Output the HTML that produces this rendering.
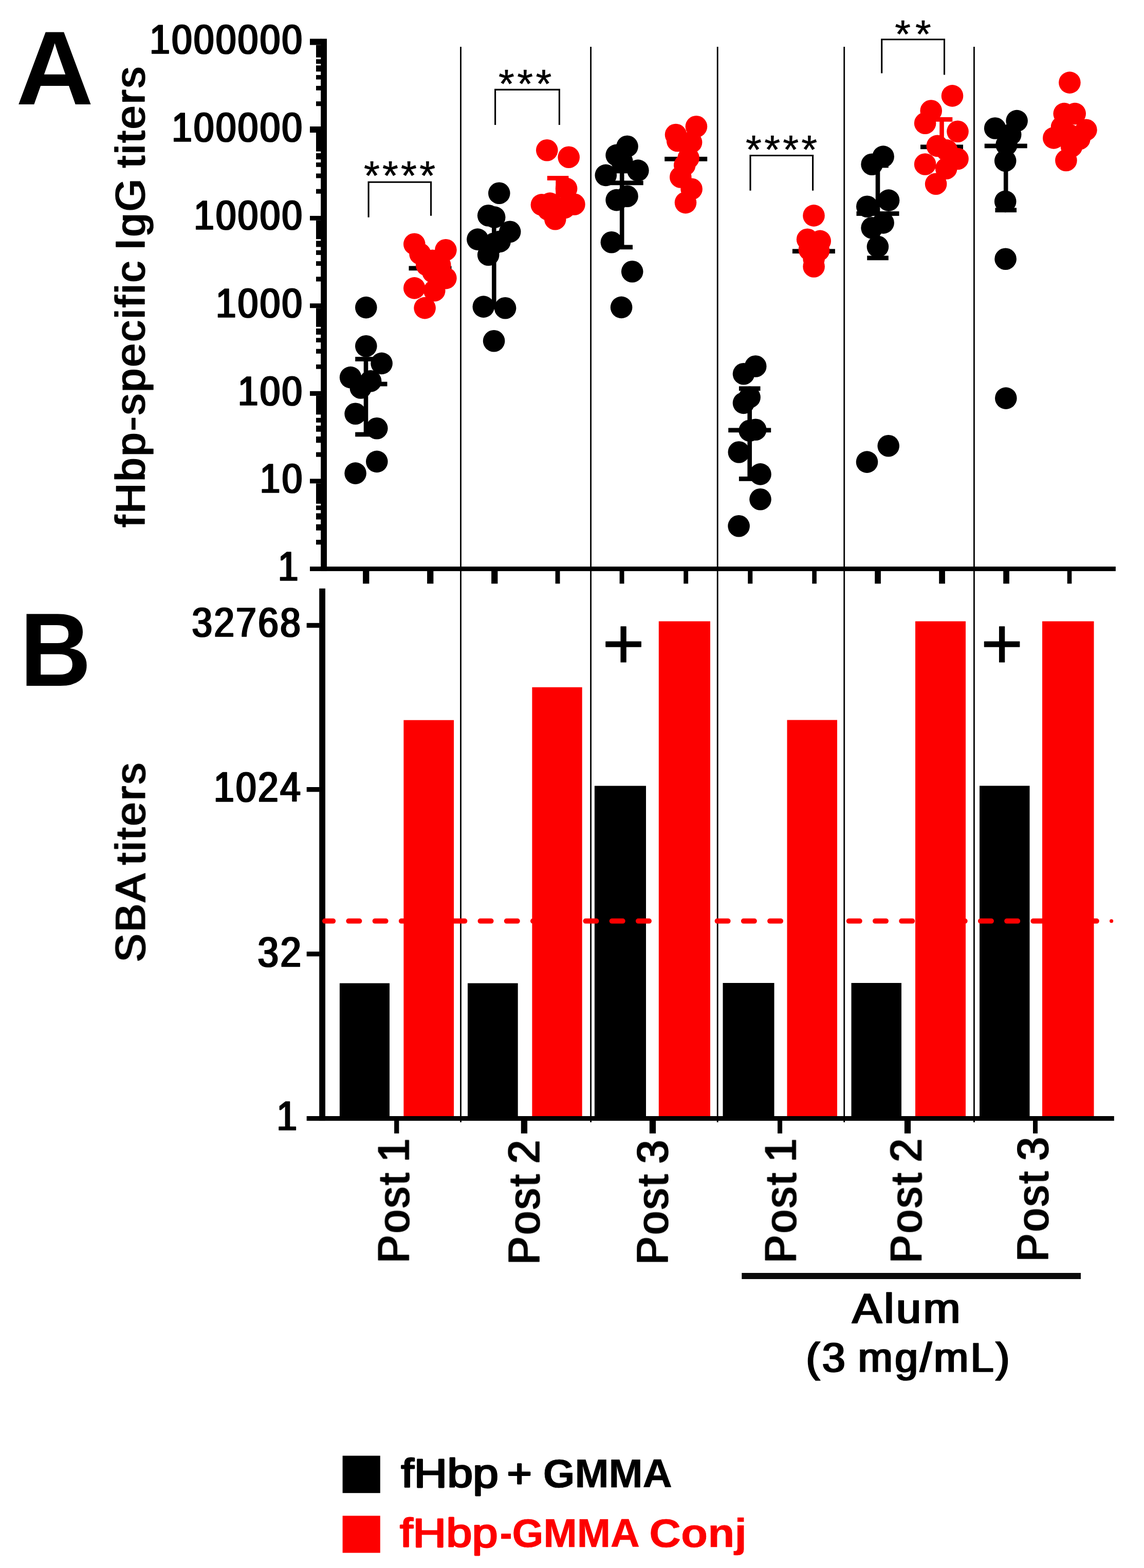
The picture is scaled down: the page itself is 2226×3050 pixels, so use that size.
<!DOCTYPE html>
<html lang="en"><head><meta charset="utf-8"><title>fHbp-specific IgG titers and SBA titers</title>
<style>html,body{margin:0;padding:0;background:#fff}svg{display:block}text{font-family:"Liberation Sans",sans-serif}</style>
</head><body>
<svg xmlns="http://www.w3.org/2000/svg" width="2226" height="3050" viewBox="0 0 2226 3050">
<defs><filter id="hb" x="-5%" y="-5%" width="110%" height="110%" color-interpolation-filters="sRGB"><feMorphology operator="dilate" radius="1.2 0"/></filter></defs>
<rect width="2226" height="3050" fill="#fff"/>
<g fill="#000">
<rect x="895.1" y="91" width="2.8" height="2092"/>
<rect x="1148.2" y="91" width="2.8" height="2092"/>
<rect x="1394.8" y="91" width="2.8" height="2092"/>
<rect x="1641.3" y="91" width="2.8" height="2092"/>
<rect x="1894.0" y="91" width="2.8" height="2092"/>
</g>
<g fill="#000">
<rect x="624.2" y="75.4" width="11.8" height="1035.5"/>
<rect x="603" y="1102.1" width="1567.9" height="8.8"/>
<rect x="603" y="75.4" width="22" height="12.1"/>
<rect x="603" y="246" width="22" height="12.0"/>
<rect x="603" y="419.9" width="22" height="8.9"/>
<rect x="603" y="590.2" width="22" height="9.0"/>
<rect x="603" y="760.8" width="22" height="9.1"/>
<rect x="603" y="931.3" width="22" height="9.0"/>
<rect x="615" y="87.5" width="10" height="24.2"/>
<rect x="615" y="115.2" width="10" height="8.9"/>
<rect x="615" y="127.3" width="10" height="11.9"/>
<rect x="615" y="145.9" width="10" height="8.7"/>
<rect x="615" y="167" width="10" height="8.8"/>
<rect x="615" y="197.2" width="10" height="9.1"/>
<rect x="615" y="258" width="10" height="36.5"/>
<rect x="615" y="298" width="10" height="12.0"/>
<rect x="615" y="316" width="10" height="8.8"/>
<rect x="615" y="337.5" width="10" height="9.0"/>
<rect x="615" y="367.7" width="10" height="9.0"/>
<rect x="615" y="428.8" width="10" height="36.4"/>
<rect x="615" y="468.4" width="10" height="12.0"/>
<rect x="615" y="486.8" width="10" height="9.1"/>
<rect x="615" y="508.1" width="10" height="8.9"/>
<rect x="615" y="538.3" width="10" height="9.2"/>
<rect x="615" y="599.2" width="10" height="36.6"/>
<rect x="615" y="639" width="10" height="11.9"/>
<rect x="615" y="657.3" width="10" height="8.7"/>
<rect x="615" y="678.7" width="10" height="9.1"/>
<rect x="615" y="708.9" width="10" height="8.8"/>
<rect x="615" y="769.9" width="10" height="36.5"/>
<rect x="615" y="812.8" width="10" height="9.1"/>
<rect x="615" y="827.9" width="10" height="11.9"/>
<rect x="615" y="849.1" width="10" height="12.2"/>
<rect x="615" y="879.6" width="10" height="9.1"/>
<rect x="615" y="940.3" width="10" height="39.5"/>
<rect x="615" y="983.3" width="10" height="8.9"/>
<rect x="615" y="998.4" width="10" height="12.1"/>
<rect x="615" y="1019.8" width="10" height="12.0"/>
<rect x="615" y="1050" width="10" height="9.3"/>
<rect x="706.1" y="1110" width="12.3" height="25.3"/>
<rect x="831.1" y="1110" width="12.3" height="25.3"/>
<rect x="956.1" y="1110" width="12.3" height="25.3"/>
<rect x="1080.6" y="1110" width="8.9" height="25.3"/>
<rect x="1205.6" y="1110" width="8.9" height="25.3"/>
<rect x="1330.2" y="1110" width="8.9" height="25.3"/>
<rect x="1455.2" y="1110" width="9.1" height="25.3"/>
<rect x="1580.3" y="1110" width="8.6" height="25.3"/>
<rect x="1702.2" y="1110" width="11.7" height="25.3"/>
<rect x="1827.2" y="1110" width="11.7" height="25.3"/>
<rect x="1952.2" y="1110" width="11.7" height="25.3"/>
<rect x="2076.7" y="1110" width="8.6" height="25.3"/>
</g>
<text transform="translate(291.37 104.47) scale(0.9075 1.0220)" font-size="78" font-weight="normal" fill="#000" stroke="#000" stroke-width="1.5" stroke-linejoin="round" letter-spacing="3.85" filter="url(#hb)">1000000</text>
<text transform="translate(334.25 275.27) scale(0.9075 1.0220)" font-size="78" font-weight="normal" fill="#000" stroke="#000" stroke-width="1.5" stroke-linejoin="round" letter-spacing="3.85" filter="url(#hb)">100000</text>
<text transform="translate(377.13 446.07) scale(0.9075 1.0220)" font-size="78" font-weight="normal" fill="#000" stroke="#000" stroke-width="1.5" stroke-linejoin="round" letter-spacing="3.85" filter="url(#hb)">10000</text>
<text transform="translate(420.01 616.87) scale(0.9075 1.0220)" font-size="78" font-weight="normal" fill="#000" stroke="#000" stroke-width="1.5" stroke-linejoin="round" letter-spacing="3.85" filter="url(#hb)">1000</text>
<text transform="translate(462.89 787.67) scale(0.9075 1.0220)" font-size="78" font-weight="normal" fill="#000" stroke="#000" stroke-width="1.5" stroke-linejoin="round" letter-spacing="3.85" filter="url(#hb)">100</text>
<text transform="translate(505.78 958.47) scale(0.9075 1.0220)" font-size="78" font-weight="normal" fill="#000" stroke="#000" stroke-width="1.5" stroke-linejoin="round" letter-spacing="3.85" filter="url(#hb)">10</text>
<g fill="#000"><rect x="707.7" y="698.5" width="8.6" height="146.5"/><rect x="691.2" y="694.1" width="41.6" height="8.8"/><rect x="691.2" y="840.6" width="41.6" height="8.8"/></g>
<rect x="670.5" y="742.6" width="83" height="8.8" fill="#000"/>
<g fill="#000"><circle cx="712.3" cy="598.1" r="21.3"/><circle cx="712.3" cy="673.2" r="21.3"/><circle cx="742.6" cy="706.9" r="21.3"/><circle cx="682.1" cy="734.1" r="21.3"/><circle cx="721.1" cy="741.3" r="21.3"/><circle cx="701.8" cy="754.5" r="21.3"/><circle cx="691.6" cy="804.8" r="21.3"/><circle cx="733.3" cy="833.2" r="21.3"/><circle cx="733.3" cy="897.9" r="21.3"/><circle cx="691.6" cy="920.6" r="21.3"/></g>
<rect x="795.5" y="517.4" width="83" height="8.8" fill="#000"/>
<g fill="#fd0000"><circle cx="806.3" cy="474.8" r="21.3"/><circle cx="867.4" cy="486.3" r="21.3"/><circle cx="817.5" cy="493.8" r="21.3"/><circle cx="841.7" cy="506.7" r="21.3"/><circle cx="830.3" cy="515.6" r="21.3"/><circle cx="856.2" cy="515.6" r="21.3"/><circle cx="842.4" cy="529.1" r="21.3"/><circle cx="867.4" cy="541.1" r="21.3"/><circle cx="806.3" cy="560.4" r="21.3"/><circle cx="845.3" cy="565.3" r="21.3"/><circle cx="826.6" cy="599.1" r="21.3"/></g>
<g fill="#000"><rect x="957.0" y="425.0" width="8.6" height="172.0"/><rect x="940.5" y="420.6" width="41.6" height="8.8"/><rect x="940.5" y="592.6" width="41.6" height="8.8"/></g>
<rect x="919.8" y="458.6" width="83" height="8.8" fill="#000"/>
<g fill="#000"><circle cx="971.3" cy="375.8" r="21.3"/><circle cx="950.2" cy="419.3" r="21.3"/><circle cx="962.2" cy="422.6" r="21.3"/><circle cx="992.2" cy="450.8" r="21.3"/><circle cx="929.4" cy="465.6" r="21.3"/><circle cx="972.6" cy="469.8" r="21.3"/><circle cx="961.7" cy="473.5" r="21.3"/><circle cx="950.2" cy="495.8" r="21.3"/><circle cx="940.8" cy="596.6" r="21.3"/><circle cx="983.1" cy="599.3" r="21.3"/><circle cx="961.1" cy="663.2" r="21.3"/></g>
<g fill="#fd0000"><rect x="1081.3" y="346.5" width="8.6" height="53.5"/><rect x="1064.8" y="342.1" width="41.6" height="8.8"/><rect x="1064.8" y="395.6" width="41.6" height="8.8"/></g>
<g fill="#fd0000"><circle cx="1064.3" cy="292.2" r="21.3"/><circle cx="1106.7" cy="305.8" r="21.3"/><circle cx="1102.1" cy="366.9" r="21.3"/><circle cx="1053.9" cy="398.4" r="21.3"/><circle cx="1117.4" cy="397.5" r="21.3"/><circle cx="1070.1" cy="395.6" r="21.3"/><circle cx="1098.8" cy="404.0" r="21.3"/><circle cx="1066.4" cy="407.7" r="21.3"/><circle cx="1080.3" cy="426.3" r="21.3"/></g>
<g fill="#000"><rect x="1205.9" y="332.8" width="8.6" height="148.0"/><rect x="1189.4" y="328.4" width="41.6" height="8.8"/><rect x="1189.4" y="476.4" width="41.6" height="8.8"/></g>
<rect x="1168.7" y="351.4" width="83" height="8.8" fill="#000"/>
<g fill="#000"><circle cx="1220.5" cy="284.8" r="21.3"/><circle cx="1199.6" cy="301.9" r="21.3"/><circle cx="1210.3" cy="314.0" r="21.3"/><circle cx="1178.8" cy="340.9" r="21.3"/><circle cx="1241.4" cy="331.6" r="21.3"/><circle cx="1199.6" cy="389.1" r="21.3"/><circle cx="1220.5" cy="381.7" r="21.3"/><circle cx="1189.9" cy="471.3" r="21.3"/><circle cx="1230.2" cy="528.3" r="21.3"/><circle cx="1209.1" cy="597.9" r="21.3"/></g>
<rect x="1293.2" y="304.9" width="83" height="8.8" fill="#000"/>
<g fill="#fd0000"><circle cx="1354.9" cy="246.2" r="21.3"/><circle cx="1315.0" cy="262.0" r="21.3"/><circle cx="1318.2" cy="274.0" r="21.3"/><circle cx="1345.1" cy="276.8" r="21.3"/><circle cx="1339.6" cy="307.4" r="21.3"/><circle cx="1332.2" cy="321.3" r="21.3"/><circle cx="1324.3" cy="344.5" r="21.3"/><circle cx="1345.6" cy="367.7" r="21.3"/><circle cx="1334.0" cy="394.1" r="21.3"/></g>
<g fill="#000"><rect x="1454.4" y="755.8" width="8.6" height="175.6"/><rect x="1437.9" y="751.4" width="41.6" height="8.8"/><rect x="1437.9" y="927.0" width="41.6" height="8.8"/></g>
<rect x="1417.2" y="832.4" width="83" height="8.8" fill="#000"/>
<g fill="#000"><circle cx="1470.2" cy="712.5" r="21.3"/><circle cx="1447.0" cy="727.3" r="21.3"/><circle cx="1458.6" cy="772.8" r="21.3"/><circle cx="1447.0" cy="783.9" r="21.3"/><circle cx="1470.2" cy="835.8" r="21.3"/><circle cx="1458.6" cy="837.7" r="21.3"/><circle cx="1437.8" cy="879.5" r="21.3"/><circle cx="1479.5" cy="922.4" r="21.3"/><circle cx="1479.5" cy="971.3" r="21.3"/><circle cx="1437.6" cy="1023.3" r="21.3"/></g>
<rect x="1541.9" y="484.3" width="83" height="8.8" fill="#000"/>
<g fill="#fd0000"><circle cx="1583.5" cy="419.4" r="21.3"/><circle cx="1571.1" cy="465.7" r="21.3"/><circle cx="1595.7" cy="468.9" r="21.3"/><circle cx="1574.9" cy="485.7" r="21.3"/><circle cx="1593.1" cy="487.3" r="21.3"/><circle cx="1583.6" cy="503.2" r="21.3"/><circle cx="1583.6" cy="518.5" r="21.3"/></g>
<g fill="#000"><rect x="1703.7" y="322.0" width="8.6" height="179.8"/><rect x="1687.2" y="317.6" width="41.6" height="8.8"/><rect x="1687.2" y="497.4" width="41.6" height="8.8"/></g>
<rect x="1666.5" y="411.1" width="83" height="8.8" fill="#000"/>
<g fill="#000"><circle cx="1718.6" cy="304.6" r="21.3"/><circle cx="1696.6" cy="319.7" r="21.3"/><circle cx="1729.1" cy="389.6" r="21.3"/><circle cx="1687.3" cy="401.7" r="21.3"/><circle cx="1696.6" cy="443.3" r="21.3"/><circle cx="1718.6" cy="433.4" r="21.3"/><circle cx="1707.9" cy="479.8" r="21.3"/><circle cx="1728.7" cy="867.3" r="21.3"/><circle cx="1687.0" cy="898.6" r="21.3"/></g>
<g fill="#fd0000"><rect x="1828.2" y="232.3" width="8.6" height="57.7"/><rect x="1811.7" y="227.9" width="41.6" height="8.8"/><rect x="1811.7" y="285.6" width="41.6" height="8.8"/></g>
<rect x="1791.0" y="281.4" width="83" height="8.8" fill="#000"/>
<g fill="#fd0000"><circle cx="1853.0" cy="186.4" r="21.3"/><circle cx="1811.7" cy="215.5" r="21.3"/><circle cx="1800.1" cy="239.7" r="21.3"/><circle cx="1863.5" cy="255.8" r="21.3"/><circle cx="1823.8" cy="283.9" r="21.3"/><circle cx="1842.3" cy="292.4" r="21.3"/><circle cx="1863.5" cy="309.0" r="21.3"/><circle cx="1800.1" cy="319.5" r="21.3"/><circle cx="1841.2" cy="327.8" r="21.3"/><circle cx="1821.1" cy="357.8" r="21.3"/></g>
<g fill="#000"><rect x="1952.9" y="262.0" width="8.6" height="146.7"/><rect x="1936.4" y="257.6" width="41.6" height="8.8"/><rect x="1936.4" y="404.3" width="41.6" height="8.8"/></g>
<rect x="1915.7" y="279.5" width="83" height="8.8" fill="#000"/>
<g fill="#000"><circle cx="1978.6" cy="235.1" r="21.3"/><circle cx="1936.2" cy="249.5" r="21.3"/><circle cx="1966.2" cy="261.8" r="21.3"/><circle cx="1958.5" cy="281.7" r="21.3"/><circle cx="1956.2" cy="312.8" r="21.3"/><circle cx="1956.2" cy="391.9" r="21.3"/><circle cx="1956.6" cy="503.7" r="21.3"/><circle cx="1957.3" cy="774.6" r="21.3"/></g>
<g fill="#fd0000"><circle cx="2081.4" cy="160.6" r="21.3"/><circle cx="2070.7" cy="221.1" r="21.3"/><circle cx="2091.7" cy="221.1" r="21.3"/><circle cx="2113.4" cy="252.7" r="21.3"/><circle cx="2050.3" cy="268.4" r="21.3"/><circle cx="2066.0" cy="247.0" r="21.3"/><circle cx="2080.0" cy="262.0" r="21.3"/><circle cx="2100.4" cy="270.3" r="21.3"/><circle cx="2085.0" cy="285.0" r="21.3"/><circle cx="2074.4" cy="312.0" r="21.3"/></g>
<path d="M717.1 422.7V354.3H838.6V419.7" fill="none" stroke="#000" stroke-width="3.1"/>
<text transform="translate(708.11 369.25) scale(0.9938 1.0000)" font-size="80" font-weight="normal" fill="#000" stroke="#000" stroke-width="0.6" stroke-linejoin="round" letter-spacing="5.1">****</text>
<path d="M963.6 242.9V174.4H1088.4V242.9" fill="none" stroke="#000" stroke-width="3.1"/>
<text transform="translate(970.11 190.31) scale(0.9907 0.9649)" font-size="80" font-weight="normal" fill="#000" stroke="#000" stroke-width="0.6" stroke-linejoin="round" letter-spacing="5.4">***</text>
<path d="M1460 370.7V302.5H1581.6V370.7" fill="none" stroke="#000" stroke-width="3.1"/>
<text transform="translate(1451.11 318.31) scale(0.9924 0.9649)" font-size="80" font-weight="normal" fill="#000" stroke="#000" stroke-width="0.6" stroke-linejoin="round" letter-spacing="5.2">****</text>
<path d="M1715.7 142.4V76.8H1837.5V145.6" fill="none" stroke="#000" stroke-width="3.1"/>
<text transform="translate(1741.31 91.84) scale(0.9871 0.9474)" font-size="80" font-weight="normal" fill="#000" stroke="#000" stroke-width="0.6" stroke-linejoin="round" letter-spacing="9.2">**</text>
<g>
<rect x="660.9" y="1912.5" width="97.1" height="263.5" fill="#000"/>
<rect x="785.4" y="1400.7" width="97.7" height="775.3" fill="#fd0000"/>
<rect x="910.0" y="1912.5" width="97.7" height="263.5" fill="#000"/>
<rect x="1035.4" y="1336.8" width="97.3" height="839.2" fill="#fd0000"/>
<rect x="1156.9" y="1528.6" width="100.1" height="647.4" fill="#000"/>
<rect x="1281.8" y="1208.5" width="100.2" height="967.5" fill="#fd0000"/>
<rect x="1406.5" y="1912.0" width="100.0" height="264.0" fill="#000"/>
<rect x="1531.5" y="1400.5" width="97.5" height="775.5" fill="#fd0000"/>
<rect x="1656.5" y="1912.0" width="97.5" height="264.0" fill="#000"/>
<rect x="1781.0" y="1208.5" width="98.0" height="967.5" fill="#fd0000"/>
<rect x="1906.0" y="1528.5" width="97.5" height="647.5" fill="#000"/>
<rect x="2028.0" y="1208.5" width="100.5" height="967.5" fill="#fd0000"/>
</g>
<g fill="#000">
<rect x="621.2" y="1144.7" width="11.8" height="1035.4"/>
<rect x="596.7" y="2171" width="1571.1" height="9.1"/>
<rect x="596.7" y="1211.8" width="25" height="9.3"/>
<rect x="596.7" y="1531.0" width="25" height="9.3"/>
<rect x="596.7" y="1851.0" width="25" height="9.3"/>
<rect x="767.1" y="2179" width="9.3" height="25.7"/>
<rect x="1013.8" y="2179" width="12.3" height="25.7"/>
<rect x="1263.8" y="2179" width="12.3" height="25.7"/>
<rect x="1513.0" y="2179" width="9.1" height="25.7"/>
<rect x="1759.9" y="2179" width="12.2" height="25.7"/>
<rect x="2010.0" y="2179" width="9" height="25.7"/>
</g>
<line x1="632" y1="1791.6" x2="2157" y2="1791.6" stroke="#fd0000" stroke-width="10" stroke-dasharray="21 30.23" stroke-dashoffset="4.83" stroke-linecap="round"/>
<circle cx="2162.6" cy="1791.6" r="3.6" fill="#fd0000"/>
<text transform="translate(373.49 1238.15) scale(0.9087 1.0308)" font-size="78" font-weight="normal" fill="#000" stroke="#000" stroke-width="1.5" stroke-linejoin="round" letter-spacing="3.85" filter="url(#hb)">32768</text>
<text transform="translate(415.95 1559.33) scale(0.9123 1.0467)" font-size="78" font-weight="normal" fill="#000" stroke="#000" stroke-width="1.5" stroke-linejoin="round" letter-spacing="3.85" filter="url(#hb)">1024</text>
<text transform="translate(501.47 1879.53) scale(0.9322 1.0449)" font-size="78" font-weight="normal" fill="#000" stroke="#000" stroke-width="1.5" stroke-linejoin="round" letter-spacing="3.85" filter="url(#hb)">32</text>
<text transform="translate(541.04 1129.47) scale(0.9075 1.0220)" font-size="78" font-weight="normal" fill="#000" stroke="#000" stroke-width="1.5" stroke-linejoin="round" letter-spacing="3.85" filter="url(#hb)">1</text>
<text transform="translate(538.59 2198.45) scale(0.9087 1.0308)" font-size="78" font-weight="normal" fill="#000" stroke="#000" stroke-width="1.5" stroke-linejoin="round" letter-spacing="3.85" filter="url(#hb)">1</text>
<text transform="translate(1172.11 1299.68) scale(1.0065 1.0022)" font-size="140" font-weight="normal" fill="#000" stroke="#000" stroke-width="1.2" stroke-linejoin="round">+</text>
<text transform="translate(1908.41 1299.68) scale(1.0065 1.0022)" font-size="140" font-weight="normal" fill="#000" stroke="#000" stroke-width="1.2" stroke-linejoin="round">+</text>
<text transform="translate(795.33 2456.62) rotate(-90) scale(0.9643 1.0091)" font-size="84" font-weight="normal" fill="#000" stroke="#000" stroke-width="1.5" stroke-linejoin="round" letter-spacing="4.3" word-spacing="-9" filter="url(#hb)">Post 1</text>
<text transform="translate(1049.09 2459.52) rotate(-90) scale(0.9643 1.0091)" font-size="84" font-weight="normal" fill="#000" stroke="#000" stroke-width="1.5" stroke-linejoin="round" letter-spacing="4.3" word-spacing="-9" filter="url(#hb)">Post 2</text>
<text transform="translate(1298.99 2459.52) rotate(-90) scale(0.9643 1.0091)" font-size="84" font-weight="normal" fill="#000" stroke="#000" stroke-width="1.5" stroke-linejoin="round" letter-spacing="4.3" word-spacing="-9" filter="url(#hb)">Post 3</text>
<text transform="translate(1548.33 2456.62) rotate(-90) scale(0.9643 1.0091)" font-size="84" font-weight="normal" fill="#000" stroke="#000" stroke-width="1.5" stroke-linejoin="round" letter-spacing="4.3" word-spacing="-9" filter="url(#hb)">Post 1</text>
<text transform="translate(1792.49 2456.62) rotate(-90) scale(0.9643 1.0091)" font-size="84" font-weight="normal" fill="#000" stroke="#000" stroke-width="1.5" stroke-linejoin="round" letter-spacing="4.3" word-spacing="-9" filter="url(#hb)">Post 2</text>
<text transform="translate(2038.99 2453.72) rotate(-90) scale(0.9643 1.0091)" font-size="84" font-weight="normal" fill="#000" stroke="#000" stroke-width="1.5" stroke-linejoin="round" letter-spacing="4.3" word-spacing="-9" filter="url(#hb)">Post 3</text>
<rect x="1443.3" y="2476" width="659.7" height="12" fill="#0a0a0a"/>
<text transform="translate(1658.20 2572.94) scale(1.0296 0.9708)" font-size="84" font-weight="normal" fill="#000" stroke="#000" stroke-width="1.5" stroke-linejoin="round" letter-spacing="4.3" word-spacing="-6" filter="url(#hb)">Alum</text>
<text transform="translate(1568.57 2668.33) scale(0.9631 0.9575)" font-size="84" font-weight="normal" fill="#000" stroke="#000" stroke-width="1.5" stroke-linejoin="round" letter-spacing="4.3" word-spacing="-6" filter="url(#hb)">(3 mg/mL)</text>
<text transform="translate(280.94 1024.98) rotate(-90) scale(0.9617 0.9513)" font-size="84" font-weight="normal" fill="#000" stroke="#000" stroke-width="1.5" stroke-linejoin="round" letter-spacing="4.3" word-spacing="-9" filter="url(#hb)">fHbp-specific IgG titers</text>
<text transform="translate(281.74 1871.10) rotate(-90) scale(0.9706 0.9708)" font-size="84" font-weight="normal" fill="#000" stroke="#000" stroke-width="1.5" stroke-linejoin="round" letter-spacing="4.3" word-spacing="-9" filter="url(#hb)">SBA titers</text>
<text transform="translate(31.07 203.20) scale(1.0463 1.0178)" font-size="200" font-weight="bold" fill="#000">A</text>
<text transform="translate(38.64 1333.60) scale(0.9602 1.0127)" font-size="200" font-weight="bold" fill="#000">B</text>
<rect x="666.6" y="2831.6" width="73.2" height="72.6" fill="#000"/>
<rect x="666.6" y="2948.4" width="73.2" height="72.1" fill="#fd0000"/>
<text transform="translate(0 2893.22) scale(1 0.9252)" font-size="84" fill="#000" xml:space="preserve"><tspan x="780.47" font-weight="normal" textLength="189.57" lengthAdjust="spacingAndGlyphs" stroke="#000" stroke-width="3.2" stroke-linejoin="round">fHbp</tspan> <tspan x="986.53" font-weight="normal" textLength="48.39" lengthAdjust="spacingAndGlyphs" stroke="#000" stroke-width="3.2" stroke-linejoin="round">+</tspan> <tspan x="1056.71" font-weight="bold" textLength="251.04" lengthAdjust="spacingAndGlyphs" stroke="#000" stroke-width="0.8" stroke-linejoin="round">GMMA</tspan></text>
<text transform="translate(0 3008.81) scale(1 0.9362)" font-size="84" fill="#fd0000" xml:space="preserve"><tspan x="778.28" font-weight="normal" textLength="190.28" lengthAdjust="spacingAndGlyphs" stroke="#fd0000" stroke-width="3.2" stroke-linejoin="round">fHbp</tspan><tspan x="972.80" font-weight="bold" textLength="23.81" lengthAdjust="spacingAndGlyphs" stroke="#fd0000" stroke-width="0.8" stroke-linejoin="round">-</tspan><tspan x="996.55" font-weight="bold" textLength="248.19" lengthAdjust="spacingAndGlyphs" stroke="#fd0000" stroke-width="0.8" stroke-linejoin="round">GMMA</tspan> <tspan x="1263.33" font-weight="bold" textLength="189.69" lengthAdjust="spacingAndGlyphs" stroke="#fd0000" stroke-width="0.8" stroke-linejoin="round">Conj</tspan></text>
</svg></body></html>
